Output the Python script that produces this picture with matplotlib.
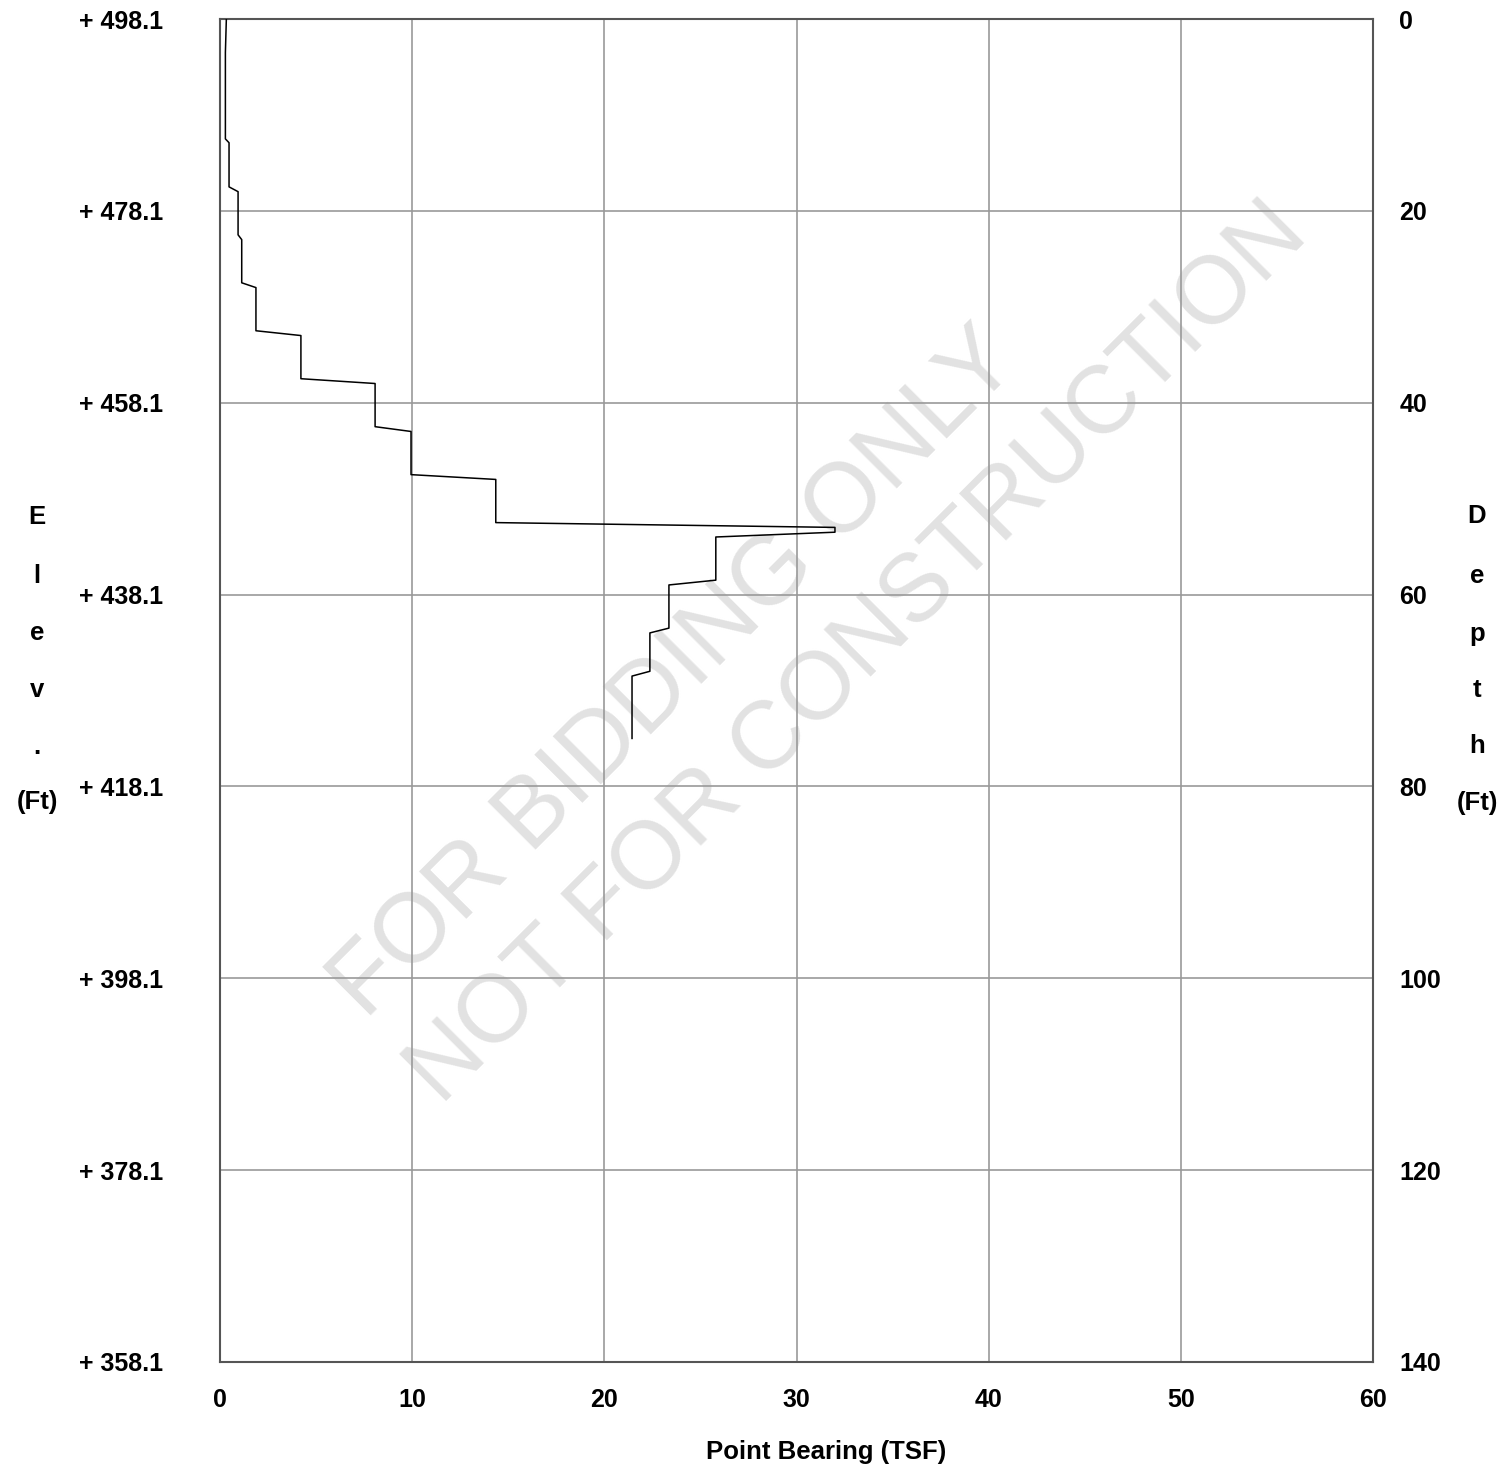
import matplotlib
matplotlib.use("Agg")
import matplotlib.pyplot as plt

plt.rcParams['font.family'] = ['Liberation Sans', 'DejaVu Sans']

# point bearing profile (vertices of the step line)
depth = [0, 3.5, 12.5, 12.9, 17.5, 18, 22.5, 23, 27.5, 28, 32.5, 33, 37.5, 38,
         42.5, 43, 47.5, 48, 52.5, 53, 53.5, 54, 58.5, 59, 63.5, 64, 68, 68.5, 75]
bearing = [0.33, 0.28, 0.28, 0.47, 0.47, 0.94, 0.94, 1.13, 1.13, 1.87, 1.87, 4.21, 4.21, 8.07,
           8.07, 9.94, 9.94, 14.35, 14.35, 32.0, 32.0, 25.8, 25.8, 23.36, 23.36, 22.37, 22.37, 21.44, 21.44]

top_elev = 498.1
x_ticks = [0, 10, 20, 30, 40, 50, 60]
depth_ticks = [0, 20, 40, 60, 80, 100, 120, 140]
elev_labels = ["+ %.1f" % (top_elev - d) for d in depth_ticks]

fig = plt.figure(figsize=(15.1, 14.73), dpi=100)
ax = fig.add_axes([0.1457, 0.0754, 0.7636, 0.9117])

ax.plot(bearing, depth, color='black', lw=1.1, zorder=3)
ax.set_xlim(0, 60)
ax.set_ylim(140, 0)
ax.set_xticks(x_ticks)
ax.set_yticks(depth_ticks)
ax.set_yticklabels(elev_labels)
ax.grid(True, color='#999999', lw=1.2, zorder=1)
ax.set_axisbelow(True)
for s in ax.spines.values():
    s.set_color('#555555')
    s.set_linewidth(1.5)
ax.tick_params(axis='x', length=0, pad=19, labelsize=18)
ax.tick_params(axis='y', length=0, pad=41, labelsize=18)
for lab in ax.get_xticklabels() + ax.get_yticklabels():
    lab.set_fontweight('bold')

ax2 = ax.twinx()
ax2.set_ylim(140, 0)
ax2.set_yticks(depth_ticks)
ax2.tick_params(axis='y', length=0, pad=19, labelsize=18)
for lab in ax2.get_yticklabels():
    lab.set_fontweight('bold')
for s in ax2.spines.values():
    s.set_visible(False)

# watermark, under the grid
ax.text(693/1510, 1-692/1473, "FOR BIDDING ONLY", fontsize=70.5, color='#e2e2e2',
        rotation=45, ha='center', va='baseline', rotation_mode='anchor',
        transform=fig.transFigure, zorder=0.2)
ax.text(876/1510, 1-672/1473, "NOT FOR CONSTRUCTION", fontsize=69, color='#e2e2e2',
        rotation=45, ha='center', va='baseline', rotation_mode='anchor',
        transform=fig.transFigure, zorder=0.2)

fig.text(826/1510, 1-1452/1473, "Point Bearing (TSF)", fontsize=18.5, fontweight='bold',
         ha='center', va='center')

left_letters = ["E", "l", "e", "v", ".", "(Ft)"]
left_y = [517, 576, 633, 690, 747, 802]
for t, y in zip(left_letters, left_y):
    fig.text(37/1510, 1-y/1473, t, fontsize=18.5, fontweight='bold', ha='center', va='center')

right_letters = ["D", "e", "p", "t", "h", "(Ft)"]
right_y = [516, 576, 634, 690, 746, 803]
for t, y in zip(right_letters, right_y):
    fig.text(1477/1510, 1-y/1473, t, fontsize=18.5, fontweight='bold', ha='center', va='center')

fig.savefig("out.png", dpi=100)
